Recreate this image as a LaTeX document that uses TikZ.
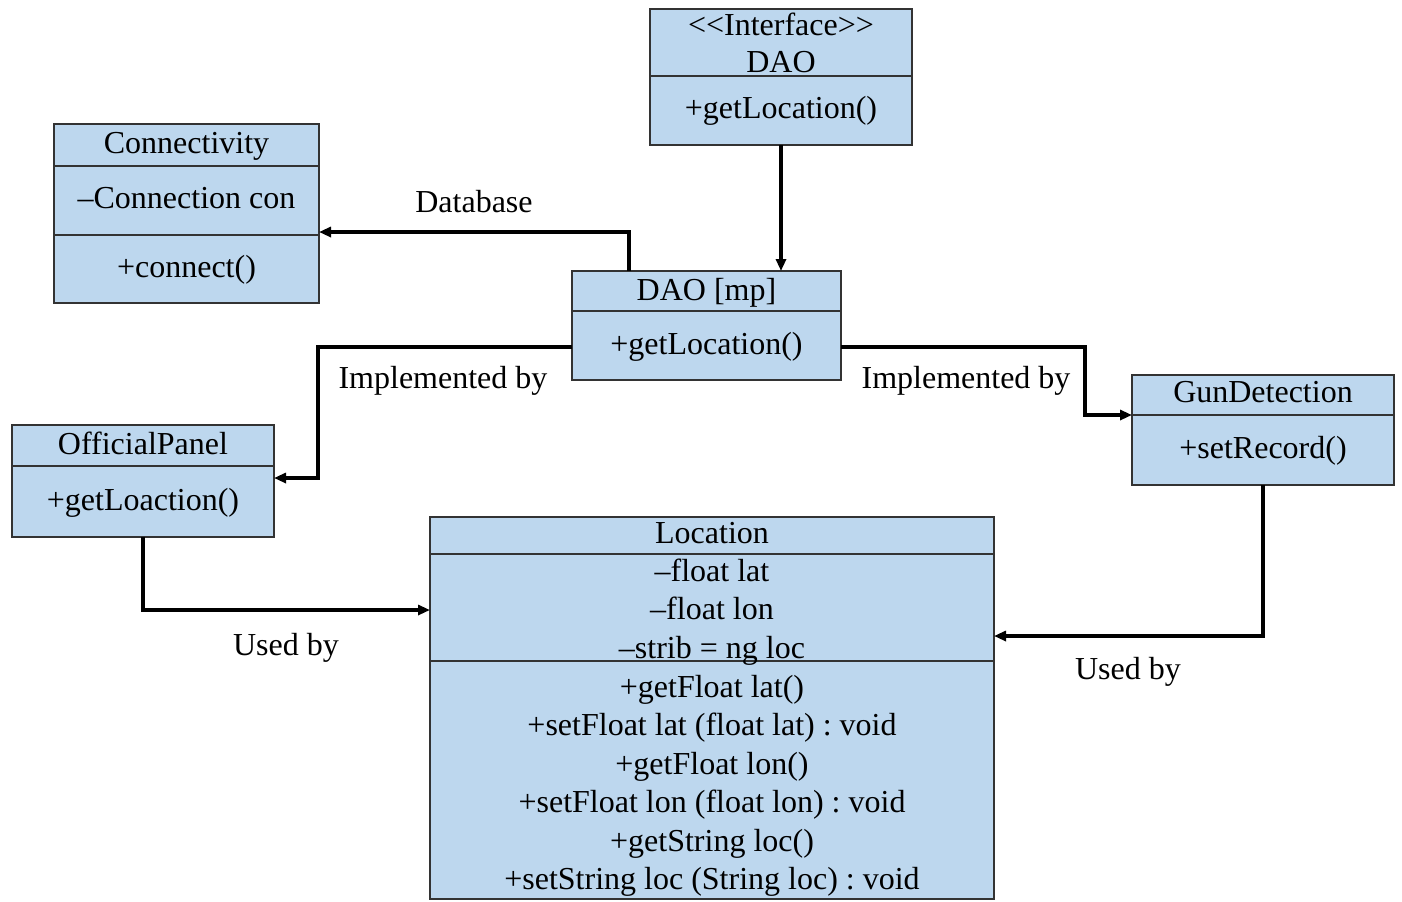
\documentclass[tikz,border=0pt]{standalone}
\usepackage{fontspec}
\setmainfont{Liberation Serif}
\frenchspacing
\usetikzlibrary{arrows.meta}
\definecolor{clsfill}{HTML}{BDD7EE}
\definecolor{clsline}{HTML}{333333}
\begin{document}
\begin{tikzpicture}[x=0.5pt,y=-0.5pt,
  cls/.style={draw=clsline, fill=clsfill, line width=1pt, inner sep=0pt, outer sep=0pt, anchor=north west},
  divider/.style={draw=clsline, line width=1pt},
  txt/.style={font=\fontsize{16}{19}\selectfont, inner sep=0pt, text height=11pt, text depth=4pt},
  conn/.style={draw=black, line width=1.7pt, -{Triangle[length=6pt,width=5pt]}}]
\useasboundingbox (0,0) rectangle (1402,901);

% class boxes
\node[cls, minimum width=131pt, minimum height=68pt] (dao) at (650,9) {};
\node[cls, minimum width=132.5pt, minimum height=89.5pt] (con) at (54,124) {};
\node[cls, minimum width=134.5pt, minimum height=54.5pt] (mp) at (572,271) {};
\node[cls, minimum width=131pt, minimum height=56pt] (off) at (12,425) {};
\node[cls, minimum width=131pt, minimum height=55pt] (gun) at (1132,375) {};
\node[cls, minimum width=282pt, minimum height=191pt] (loc) at (430,517) {};

% compartment separators
\draw[divider] (650,76) -- (912,76);
\draw[divider] (54,166) -- (319,166);
\draw[divider] (54,235) -- (319,235);
\draw[divider] (572,311) -- (841,311);
\draw[divider] (12,466) -- (274,466);
\draw[divider] (1132,415) -- (1394,415);
\draw[divider] (430,554) -- (994,554);
\draw[divider] (430,661) -- (994,661);

% DAO interface
\node[txt] (daoA) at (781,28) {{<}{<}Interface{>}{>}};
\node[txt] (daoB) at (781,65) {DAO};
\node[txt] (daoC) at (781,111) {+getLocation()};
% Connectivity
\node[txt] (conA) at (186.5,146) {Connectivity};
\node[txt] (conB) at (186.5,201) {--Connection con};
\node[txt] (conC) at (186.5,270) {+connect()};
% DAO [mp]
\node[txt] (mpA) at (706.5,293) {DAO [mp]};
\node[txt] (mpB) at (706.5,347) {+getLocation()};
% OfficialPanel
\node[txt] (offA) at (143,447) {OfficialPanel};
\node[txt] (offB) at (143,503) {+getLoaction()};
% GunDetection
\node[txt] (gunA) at (1263,395) {GunDetection};
\node[txt] (gunB) at (1263,451) {+setRecord()};
% Location
\node[txt] (locA) at (712,536) {Location};
\node[txt] (locB) at (712,574) {--float lat};
\node[txt] (locC) at (712,612) {--float lon};
\node[txt] (locD) at (712,651) {--strib = ng loc};
\node[txt] (locE) at (712,690) {+getFloat lat()};
\node[txt] (locF) at (712,728) {+setFloat lat (float lat) : void};
\node[txt] (locG) at (712,767) {+getFloat lon()};
\node[txt] (locH) at (712,805) {+setFloat lon (float lon) : void};
\node[txt] (locI) at (712,844) {+getString loc()};
\node[txt] (locJ) at (712,882) {+setString loc (String loc) : void};

% routing points
\coordinate (dbturn) at (629,232);
\coordinate (implL) at (318,347);
\coordinate (implR) at (1085,347);
\coordinate (offIn) at (0,478);
\coordinate (gunIn) at (0,415);
\coordinate (offUse) at (0,610);
\coordinate (gunUse) at (0,636);

% connectors
\draw[conn] (dao.south) -- (mp.north -| dao.south);
\draw[conn] (mp.north -| dbturn) -- (dbturn) -- (con.east |- dbturn);
\draw[conn] (mp.west |- implL) -- (implL) |- (off.east |- offIn);
\draw[conn] (mp.east |- implR) -- (implR) |- (gun.west |- gunIn);
\draw[conn] (off.south) |- (loc.west |- offUse);
\draw[conn] (gun.south) |- (loc.east |- gunUse);

% connector labels
\node[txt] (lblDb) at (474,205) {Database};
\node[txt] (lblImplL) at (443,381) {Implemented by};
\node[txt] (lblImplR) at (966,381) {Implemented by};
\node[txt] (lblUseL) at (286,648) {Used by};
\node[txt] (lblUseR) at (1128,672) {Used by};
\end{tikzpicture}
\end{document}
